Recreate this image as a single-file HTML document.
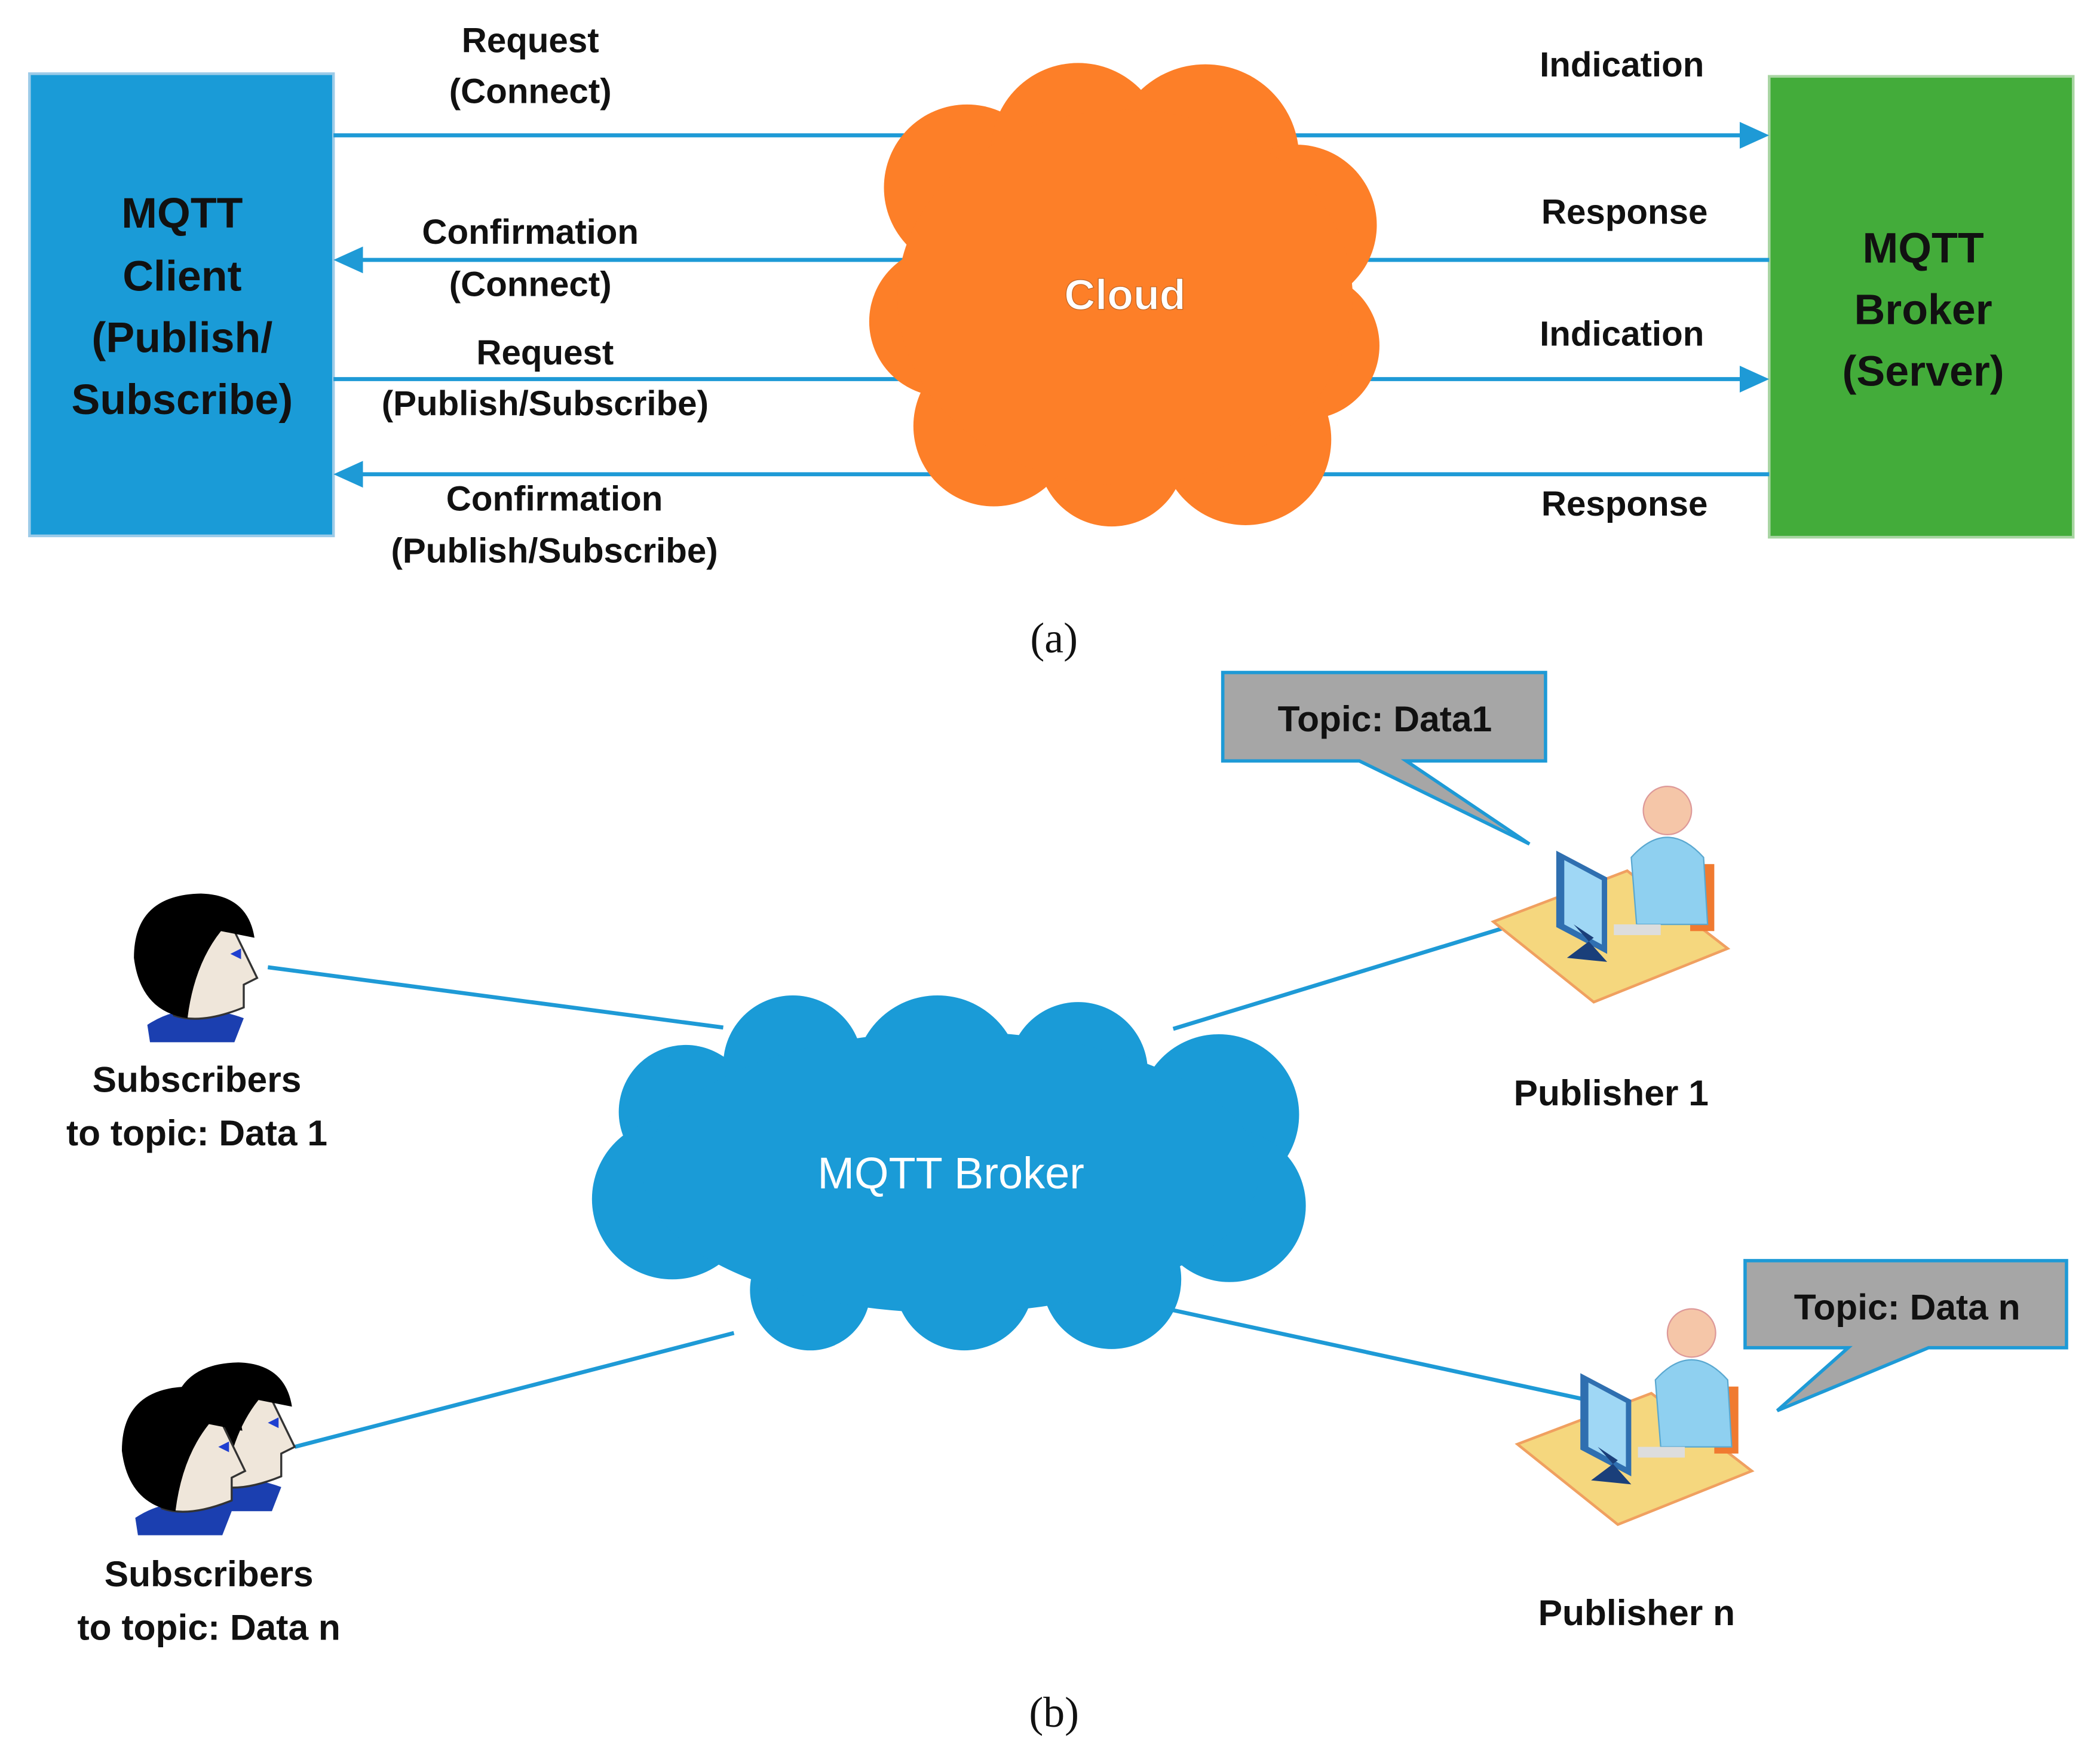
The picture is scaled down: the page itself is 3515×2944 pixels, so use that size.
<!DOCTYPE html>
<html><head><meta charset="utf-8"><style>
html,body{margin:0;padding:0;background:#fff;width:3515px;height:2944px;overflow:hidden}
svg{display:block}
text{font-family:"Liberation Sans",sans-serif;font-weight:bold}
</style></head><body>
<svg width="3515" height="2944" viewBox="0 0 1568 1313" preserveAspectRatio="none" xmlns="http://www.w3.org/2000/svg">
<!-- Part a -->
<rect x="22" y="55" width="227" height="345" fill="#1A9BD7" stroke="#9CCBE8" stroke-width="2"/>
<rect x="1321" y="57" width="227" height="344" fill="#43AC3A" stroke="#A8D5A2" stroke-width="2"/>
<g font-size="32" text-anchor="middle" fill="#111">
<text x="136" y="170">MQTT</text><text x="136" y="217">Client</text><text x="136" y="263">(Publish/</text><text x="136" y="309">Subscribe)</text>
<text x="1436" y="196">MQTT</text><text x="1436" y="242">Broker</text><text x="1436" y="288">(Server)</text>
</g>
<g stroke="#1E9AD6" stroke-width="3">
<line x1="249" y1="101" x2="1302" y2="101"/>
<line x1="1321" y1="194" x2="268" y2="194"/>
<line x1="249" y1="283" x2="1302" y2="283"/>
<line x1="1321" y1="354" x2="268" y2="354"/>
</g>
<g fill="#1E9AD6">
<polygon points="1321,101 1299,91 1299,111"/>
<polygon points="249,194 271,184 271,204"/>
<polygon points="1321,283 1299,273 1299,293"/>
<polygon points="249,354 271,344 271,364"/>
</g>
<g fill="#FD7F28">
<circle cx="722" cy="140" r="62"/><circle cx="805" cy="112" r="65"/><circle cx="900" cy="118" r="70"/>
<circle cx="968" cy="168" r="60"/><circle cx="975" cy="258" r="55"/><circle cx="930" cy="328" r="64"/>
<circle cx="830" cy="338" r="55"/><circle cx="742" cy="318" r="60"/><circle cx="705" cy="240" r="56"/>
<ellipse cx="840" cy="222" rx="170" ry="140"/>
</g>
<text x="840" y="231" font-size="32" text-anchor="middle" fill="#fff" stroke="#c46a2a" stroke-width="0.6">Cloud</text>
<g font-size="26" text-anchor="middle" fill="#111">
<text x="396" y="39">Request</text><text x="396" y="77">(Connect)</text>
<text x="1211" y="57">Indication</text>
<text x="396" y="182">Confirmation</text><text x="396" y="221">(Connect)</text>
<text x="1213" y="167">Response</text>
<text x="407" y="272">Request</text><text x="407" y="310">(Publish/Subscribe)</text>
<text x="1211" y="258">Indication</text>
<text x="414" y="381">Confirmation</text><text x="414" y="420">(Publish/Subscribe)</text>
<text x="1213" y="385">Response</text>
</g>
<g font-size="32" text-anchor="middle" fill="#111">
<text x="787" y="487" style="font-family:'Liberation Serif',serif;font-weight:normal">(a)</text>
<text x="787" y="1289" style="font-family:'Liberation Serif',serif;font-weight:normal">(b)</text>
</g>
<!-- Part b -->
<g stroke="#1E9AD6" stroke-width="3">
<line x1="200" y1="722" x2="540" y2="767"/>
<line x1="876" y1="768" x2="1125" y2="692"/>
<line x1="220" y1="1080" x2="548" y2="995"/>
<line x1="876" y1="978" x2="1185" y2="1045"/>
</g>
<g fill="#1A9BD7">
<circle cx="512" cy="830" r="50"/><circle cx="592" cy="795" r="52"/><circle cx="700" cy="805" r="62"/>
<circle cx="805" cy="800" r="52"/><circle cx="910" cy="832" r="60"/><circle cx="918" cy="900" r="57"/>
<circle cx="830" cy="955" r="52"/><circle cx="720" cy="956" r="52"/><circle cx="605" cy="963" r="45"/>
<circle cx="502" cy="895" r="60"/>
<ellipse cx="710" cy="875" rx="230" ry="105"/>
</g>
<text x="710" y="887" font-size="33" text-anchor="middle" fill="#fff" style="font-weight:500">MQTT Broker</text>
<polygon points="913,502 1154,502 1154,568 1050,568 1142,630 1015,568 913,568" fill="#A6A6A6" stroke="#1E9AD6" stroke-width="2.5"/>
<text x="1034" y="546" font-size="27" text-anchor="middle" fill="#111">Topic: Data1</text>
<polygon points="1303,941 1543,941 1543,1006 1440,1006 1327,1053 1380,1006 1303,1006" fill="#A6A6A6" stroke="#1E9AD6" stroke-width="2.5"/>
<text x="1424" y="985" font-size="27" text-anchor="middle" fill="#111">Topic: Data n</text>
<g id="pub">
<polygon points="1115,688 1215,650 1290,708 1190,748" fill="#F5D77E" stroke="#F0A060" stroke-width="2"/>
<rect x="1262" y="645" width="18" height="50" fill="#F07A30"/>
<path d="M1218,640 Q1245,610 1272,640 L1275,690 L1222,690 Z" fill="#8FD0F0" stroke="#5AA8D0"/>
<circle cx="1245" cy="605" r="18" fill="#F5C6A8" stroke="#D99"/>
<polygon points="1162,635 1200,655 1200,712 1162,692" fill="#2F6FB0"/>
<polygon points="1168,642 1196,657 1196,705 1168,690" fill="#9FD7F5"/>
<polygon points="1175,690 1190,700 1170,715 1200,718" fill="#1A3F7A"/>
<rect x="1205" y="690" width="35" height="8" fill="#ddd"/>
</g>
<use href="#pub" transform="translate(18,390)"/>
<g font-size="27" text-anchor="middle" fill="#111">
<text x="1203" y="825">Publisher 1</text>
<text x="1222" y="1213">Publisher n</text>
<text x="147" y="815">Subscribers</text><text x="147" y="855">to topic: Data 1</text>
<text x="156" y="1184">Subscribers</text><text x="156" y="1224">to topic: Data n</text>
</g>
<g id="head">
<path d="M110,765 Q140,745 182,760 L175,778 L112,778 Z" fill="#1B3FB0"/>
<path d="M120,700 Q150,680 175,695 L192,730 L182,735 L182,752 Q150,765 130,758 Q115,730 120,700 Z" fill="#EFE6DA" stroke="#333" stroke-width="1.5"/>
<path d="M100,715 Q100,668 150,667 Q185,668 190,700 L165,695 Q145,720 140,760 Q105,755 100,715 Z" fill="#000"/>
<polygon points="172,712 180,708 180,716" fill="#1F3FD0"/>
</g>
<use href="#head" transform="translate(28,350)"/>
<use href="#head" transform="translate(-9,368)"/>
</svg>
</body></html>
